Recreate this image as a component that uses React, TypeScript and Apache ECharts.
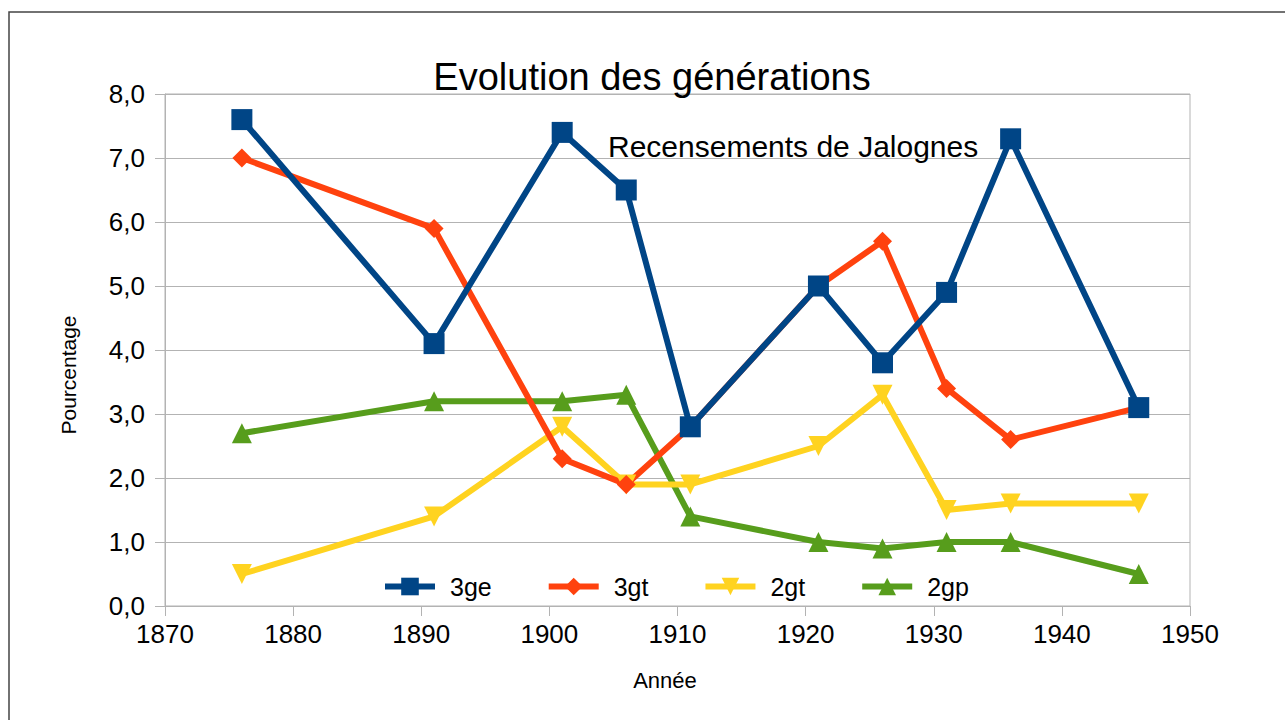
import React, { useEffect, useRef } from "react";
import * as echarts from "echarts";

const years = [1876, 1891, 1901, 1906, 1911, 1921, 1926, 1931, 1936, 1946];
const s3ge = [7.6, 4.1, 7.4, 6.5, 2.8, 5.0, 3.8, 4.9, 7.3, 3.1];
const s3gt = [7.0, 5.9, 2.3, 1.9, 2.8, 5.0, 5.7, 3.4, 2.6, 3.1];
const s2gt = [0.5, 1.4, 2.8, 1.9, 1.9, 2.5, 3.3, 1.5, 1.6, 1.6];
const s2gp = [2.7, 3.2, 3.2, 3.3, 1.4, 1.0, 0.9, 1.0, 1.0, 0.5];
const seriesNames = ["3ge", "3gt", "2gt", "2gp"];
const titleText = "Evolution des générations";
const subtitleText = "Recensements de Jalognes";
const yAxisName = "Pourcentage";
const xAxisName = "Année";

const FONT = "'Liberation Sans', Arial, sans-serif";

export default function App() {
  const ref = useRef<HTMLDivElement>(null);
  useEffect(() => {
    if (!ref.current) return;
    const chart = echarts.init(ref.current, undefined, { renderer: "svg" });
    const pair = (vals: number[]) => years.map((y, i) => [y, vals[i]]);
    const mk = (name: string, vals: number[], color: string, symbol: string, size: number) => ({
      name,
      type: "line",
      data: pair(vals),
      symbol,
      symbolSize: size,
      itemStyle: { color },
      lineStyle: { color, width: 6 },
      emphasis: { disabled: true },
    });
    chart.setOption({
      animation: false,
      backgroundColor: "#ffffff",
      textStyle: { fontFamily: FONT },
      title: {
        text: titleText,
        left: 647,
        textAlign: "center",
        top: 53,
        textStyle: { fontSize: 38, fontWeight: "normal", color: "#000", fontFamily: FONT },
      },
      grid: {
        left: 165,
        right: 95,
        top: 94,
        bottom: 114,
        show: true,
        borderColor: "#b3b3b3",
        borderWidth: 1,
      },
      legend: {
        data: seriesNames,
        left: 382,
        top: 574,
        padding: 0,
        itemWidth: 50,
        itemHeight: 22,
        itemGap: 54,
        lineStyle: { width: 6 },
        textStyle: { fontSize: 25, color: "#000", fontFamily: FONT, padding: [0, 0, 0, 10] },
      },
      xAxis: {
        type: "value",
        min: 1870,
        max: 1950,
        interval: 10,
        axisLine: { show: true, lineStyle: { color: "#b3b3b3" } },
        axisTick: { show: true, inside: false, length: 10, lineStyle: { color: "#b3b3b3" } },
        splitLine: { show: false },
        axisLabel: {
          fontSize: 26,
          color: "#000",
          margin: 15,
          fontFamily: FONT,
          formatter: (v: number) => String(v),
        },
      },
      yAxis: {
        type: "value",
        min: 0,
        max: 8,
        interval: 1,
        axisLine: { show: true, lineStyle: { color: "#b3b3b3" } },
        axisTick: { show: true, inside: false, length: 10, lineStyle: { color: "#b3b3b3" } },
        splitLine: { show: true, lineStyle: { color: "#b3b3b3" } },
        axisLabel: {
          fontSize: 26,
          color: "#000",
          margin: 20,
          fontFamily: FONT,
          formatter: (v: number) => v.toFixed(1).replace(".", ","),
        },
      },
      graphic: [
        {
          type: "rect",
          shape: { x: 9, y: 12, width: 1400, height: 900 },
          style: { fill: "none", stroke: "#444", lineWidth: 1.5 },
          silent: true,
          z: -10,
        },
        {
          type: "text",
          x: 608,
          y: 146,
          style: {
            text: subtitleText,
            fontSize: 30,
            fill: "#000",
            fontFamily: FONT,
            verticalAlign: "middle",
            align: "left",
          },
          z: 10,
        },
        {
          type: "text",
          x: 68,
          y: 375,
          rotation: Math.PI / 2,
          style: {
            text: yAxisName,
            fontSize: 21,
            fill: "#000",
            fontFamily: FONT,
            align: "center",
            verticalAlign: "middle",
          },
        },
        {
          type: "text",
          x: 665,
          y: 680,
          style: {
            text: xAxisName,
            fontSize: 22,
            fill: "#000",
            fontFamily: FONT,
            align: "center",
            verticalAlign: "middle",
          },
        },
      ],
      series: [
        mk("2gp", s2gp, "#579d1c", "triangle", 20),
        mk("2gt", s2gt, "#ffd320", "path://M0,0 L10,0 L5,9 Z", 20),
        mk("3gt", s3gt, "#ff420e", "diamond", 19),
        mk("3ge", s3ge, "#004586", "rect", 21),
      ],
    });
    return () => chart.dispose();
  }, []);
  return (
    <div
      ref={ref}
      style={{ position: "absolute", left: 0, top: 0, width: 1285, height: 720, background: "#fff" }}
    />
  );
}
